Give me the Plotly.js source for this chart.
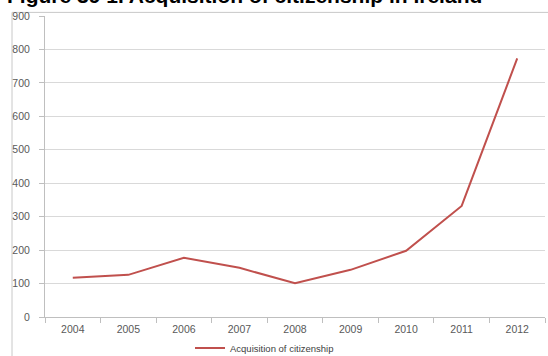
<!DOCTYPE html>
<html>
<head>
<meta charset="utf-8">
<script src="https://cdn.plot.ly/plotly-3.0.1.min.js"></script>
<style>html,body{margin:0;padding:0;background:#fff;}#chart{width:548px;height:356px;}</style>
</head>
<body>
<div id="chart"></div>
<script>
const years = ['2004','2005','2006','2007','2008','2009','2010','2011','2012'];
const citizenship = [117, 126, 177, 147, 101, 141, 198, 332, 773];
const yTicks = [0, 100, 200, 300, 400, 500, 600, 700, 800, 900];
const seriesName = 'Acquisition of citizenship';
const titleText = 'Figure 39 1. Acquisition of citizenship in Ireland';

const trace = {
  x: years, y: citizenship, type: 'scatter', mode: 'lines', name: seriesName,
  line: {color: '#c0504d', width: 2}
};
const layout = {
  width: 548, height: 356,
  margin: {l: 45, r: 3, t: 15.5, b: 39, autoexpand: false},
  paper_bgcolor: '#fff', plot_bgcolor: '#fff',
  font: {family: 'Liberation Sans, Arial, sans-serif', size: 10.5, color: '#595959'},
  showlegend: true,
  legend: {orientation: 'h', x: 0.29, xanchor: 'left', y: -0.103, yanchor: 'middle',
           font: {size: 9.5, color: '#404040'}, bgcolor: 'rgba(0,0,0,0)'},
  xaxis: {type: 'category', range: [-0.5, 8.5], tickson: 'boundaries', ticks: 'outside', ticklen: 5,
          tickcolor: '#bfbfbf', showline: true, linecolor: '#bfbfbf', linewidth: 1,
          showgrid: false, zeroline: false, fixedrange: true, ticklabelstandoff: 2},
  yaxis: {range: [0, 900], tickvals: yTicks, ticks: 'outside', ticklen: 5,
          tickcolor: '#bfbfbf', showline: true, linecolor: '#bfbfbf', linewidth: 1,
          showgrid: true, gridcolor: '#d9d9d9', gridwidth: 1, zeroline: false,
          ticklabelstandoff: 7, fixedrange: true},
  shapes: [{type: 'rect', xref: 'paper', yref: 'paper', x0: -0.066, x1: 1.2,
            y0: -0.5, y1: 1.012, line: {color: '#c8c8c8', width: 1}, layer: 'below'}],
  annotations: [{text: '<b>' + titleText + '</b>', xref: 'paper', yref: 'paper',
                 x: -0.08, xanchor: 'left', y: 1.024, yanchor: 'bottom', showarrow: false,
                 font: {family: 'Liberation Sans, Arial, sans-serif', size: 21, color: '#000'}}]
};
Plotly.newPlot('chart', [trace], layout, {displayModeBar: false, staticPlot: true});
</script>
</body>
</html>
